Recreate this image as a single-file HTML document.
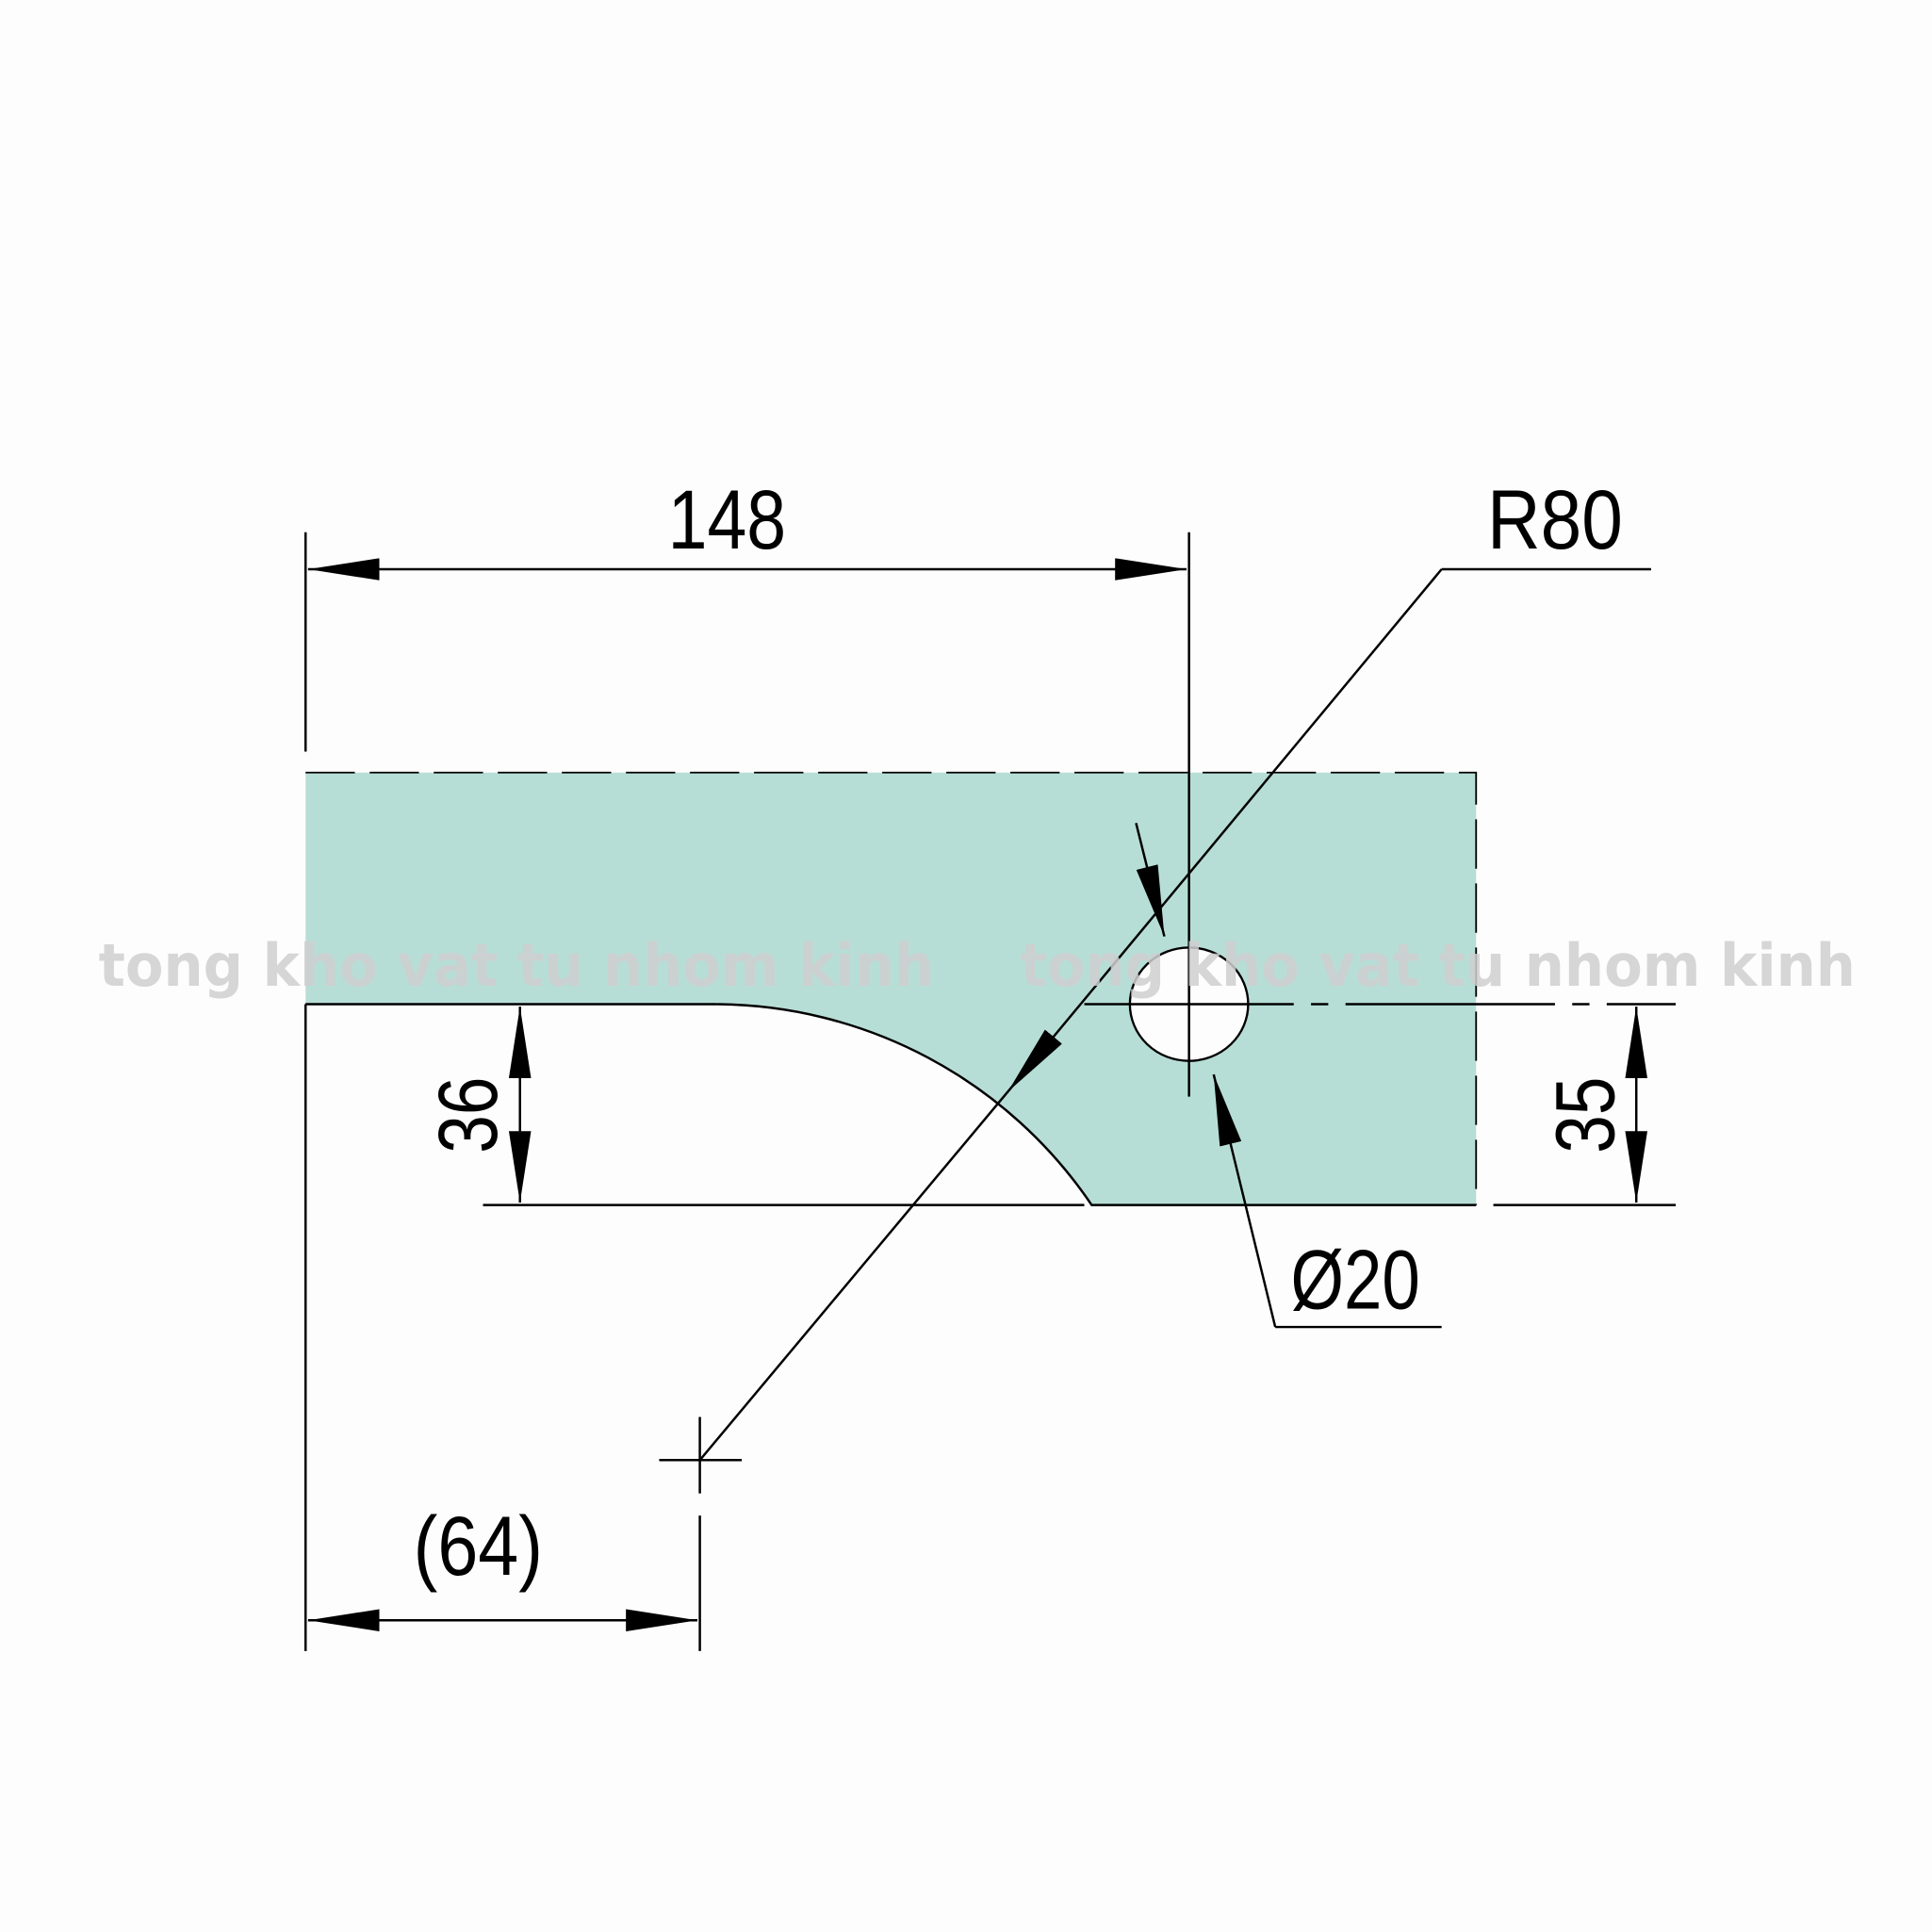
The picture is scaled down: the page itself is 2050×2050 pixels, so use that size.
<!DOCTYPE html>
<html><head><style>html,body{margin:0;padding:0;background:#fdfdfd}svg{display:block}</style></head>
<body>
<svg width="2050" height="2050" viewBox="0 0 1568 1568" xmlns="http://www.w3.org/2000/svg">
<defs>
<marker id="a" viewBox="0 0 58 18" refX="58" refY="9" markerWidth="58" markerHeight="18" markerUnits="userSpaceOnUse" orient="auto-start-reverse"><path d="M0,0 L58,9 L0,18 Z" fill="#000"/></marker>
</defs>
<rect width="1568" height="1568" fill="#fdfdfd"/>
<path d="M248,627 L1198,627 L1198,978 L886,978 A370,370 0 0 0 580,815 L248,815 Z" fill="#b7ded6"/>
<ellipse cx="965" cy="815" rx="48" ry="46" fill="#fdfdfd" stroke="#000" stroke-width="1.8"/>
<g stroke="#000" stroke-width="1.9" fill="none">
<path d="M248,815 L580,815 A370,370 0 0 1 886,978 L1198,978"/>
<path d="M248,627 L1198,627 L1198,978" stroke-dasharray="40,12" stroke-width="1.4"/>
<line x1="880" y1="815" x2="1360" y2="815" stroke-dasharray="170,14,14,14"/>
<line x1="248" y1="432" x2="248" y2="610"/>
<line x1="248" y1="815" x2="248" y2="1340"/>
<line x1="965" y1="432" x2="965" y2="890"/>
<line x1="250" y1="462" x2="963" y2="462" marker-start="url(#a)" marker-end="url(#a)"/>
<line x1="392" y1="978" x2="880" y2="978"/>
<line x1="1212" y1="978" x2="1360" y2="978"/>
<line x1="422" y1="817" x2="422" y2="976" marker-start="url(#a)" marker-end="url(#a)"/>
<line x1="1328" y1="817" x2="1328" y2="976" marker-start="url(#a)" marker-end="url(#a)"/>
<line x1="1170" y1="462" x2="1340" y2="462"/>
<line x1="1170" y1="462" x2="818" y2="886" marker-end="url(#a)"/>
<line x1="818" y1="886" x2="568" y2="1185"/>
<line x1="535" y1="1185" x2="602" y2="1185"/>
<line x1="568" y1="1150" x2="568" y2="1212"/>
<line x1="568" y1="1230" x2="568" y2="1340"/>
<line x1="250" y1="1315" x2="566" y2="1315" marker-start="url(#a)" marker-end="url(#a)"/>
<line x1="922" y1="668" x2="945" y2="760" marker-end="url(#a)"/>
<line x1="1035" y1="1077" x2="985" y2="872" marker-end="url(#a)"/>
<line x1="1035" y1="1077" x2="1170" y2="1077"/>
</g>
<g font-family="Liberation Sans, sans-serif" font-size="68" fill="#000">
<text x="590" y="445" text-anchor="middle" textLength="96" lengthAdjust="spacingAndGlyphs">148</text>
<text x="1262" y="445" text-anchor="middle" textLength="110" lengthAdjust="spacingAndGlyphs">R80</text>
<text x="1100" y="1062" text-anchor="middle" textLength="105" lengthAdjust="spacingAndGlyphs">Ø20</text>
<text x="388" y="1278" text-anchor="middle" textLength="105" lengthAdjust="spacingAndGlyphs">(64)</text>
<text transform="translate(403,905) rotate(-90)" text-anchor="middle" textLength="62" lengthAdjust="spacingAndGlyphs">36</text>
<text transform="translate(1310,905) rotate(-90)" text-anchor="middle" textLength="62" lengthAdjust="spacingAndGlyphs">35</text>
</g>
<g font-family="DejaVu Sans, Liberation Sans, sans-serif" font-weight="600" font-size="48" fill="#cfcfcf" fill-opacity="0.85">
<text x="80" y="800" textLength="678" lengthAdjust="spacingAndGlyphs">tong kho vat tu nhom kinh</text>
<text x="828" y="800" textLength="678" lengthAdjust="spacingAndGlyphs">tong kho vat tu nhom kinh</text>
</g>
</svg>
</body></html>
